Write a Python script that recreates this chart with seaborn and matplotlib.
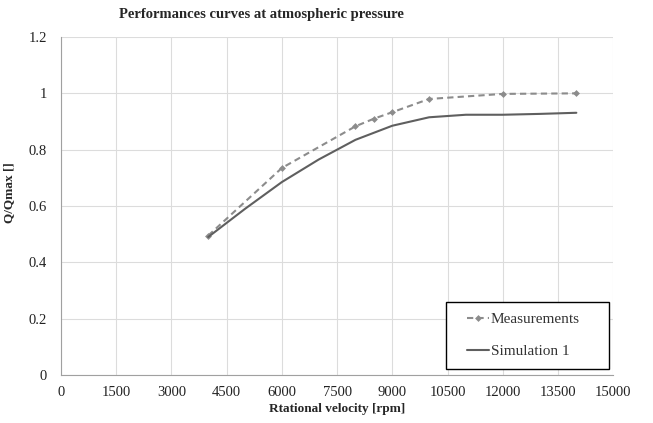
import matplotlib
matplotlib.use("Agg")
import matplotlib.pyplot as plt
from matplotlib.patches import Rectangle
import seaborn as sns
import pandas as pd

meas_rpm = [4000, 6000, 8000, 8500, 9000, 10000, 12000, 14000]
meas_q = [0.495, 0.735, 0.883, 0.91, 0.933, 0.98, 0.998, 1.0]
sim_rpm = [4000, 5000, 6000, 7000, 8000, 9000, 10000, 11000, 12000, 13000, 14000]
sim_q = [0.49, 0.59, 0.685, 0.765, 0.835, 0.885, 0.915, 0.924, 0.924, 0.927, 0.931]
xticks = [0, 1500, 3000, 4500, 6000, 7500, 9000, 10500, 12000, 13500, 15000]
yticks = [0, 0.2, 0.4, 0.6, 0.8, 1.0, 1.2]
ytick_labels = ["0", "0.2", "0.4", "0.6", "0.8", "1", "1.2"]

sns.set_style("white")
plt.rcParams['font.family'] = ['Liberation Serif', 'DejaVu Serif']

fig = plt.figure(figsize=(6.53, 4.23), dpi=100)
ax = fig.add_axes([0.0934, 0.1135, 0.8456, 0.799])

dm = pd.DataFrame({"x": meas_rpm, "y": meas_q})
ds = pd.DataFrame({"x": sim_rpm, "y": sim_q})
sns.lineplot(data=dm, x="x", y="y", ax=ax, color="#8c8c8c", linestyle=(0, (3.0, 2)),
             linewidth=1.5, marker="D", markersize=3.5, markeredgewidth=0,
             label="Measurements")
sns.lineplot(data=ds, x="x", y="y", ax=ax, color="#5f5f5f", linewidth=1.5,
             label="Simulation 1")

ax.set_xlim(0, 15000)
ax.set_ylim(0, 1.2)
ax.set_xticks(xticks)
ax.set_xticklabels([str(t) for t in xticks])
ax.set_yticks(yticks)
ax.set_yticklabels(ytick_labels)
ax.grid(True, color="#dcdcdc", linewidth=0.8)
ax.tick_params(axis="both", labelsize=10.5, colors="#222222", length=0)
ax.tick_params(axis="y", pad=10)
ax.tick_params(axis="x", pad=8)
for s in ["top", "right"]:
    ax.spines[s].set_visible(False)
for s in ["left", "bottom"]:
    ax.spines[s].set_color("#a0a0a0")
    ax.spines[s].set_linewidth(0.8)

ax.set_xlabel("Rtational velocity [rpm]", fontsize=9.5, fontweight="bold", labelpad=3)
ax.set_ylabel("Q/Qmax []", fontsize=9.5, fontweight="bold")
ax.yaxis.set_label_coords(-0.083, 0.54)
fig.suptitle("Performances curves at atmospheric pressure", fontsize=10.5,
             fontweight="bold", x=0.40, y=0.98)

# legend frame drawn as a rectangle, legend itself frameless
ax.add_patch(Rectangle((0.697, 0.018), 0.296, 0.198, transform=ax.transAxes,
                       facecolor="white", edgecolor="black", linewidth=1.0,
                       zorder=5, clip_on=False))
leg = ax.legend(loc="center left", bbox_to_anchor=(0.735, 0.117), fontsize=11,
                frameon=False, handlelength=1.45, handletextpad=0.1,
                borderpad=0, labelspacing=1.2, borderaxespad=0)
leg.set_zorder(6)
for t in leg.get_texts():
    t.set_color("#333333")

fig.savefig("out.png", dpi=100)
